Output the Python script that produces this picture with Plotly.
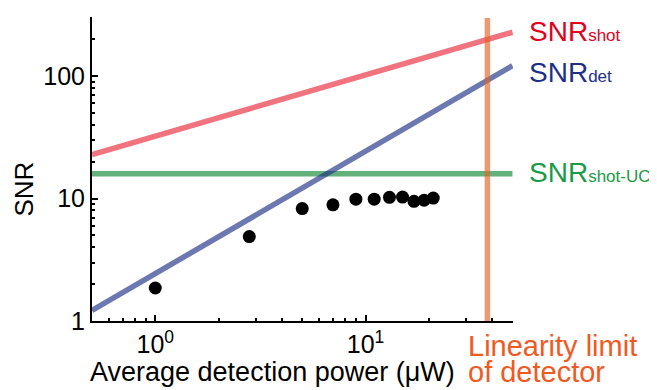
import plotly.graph_objects as go
import numpy as np

# ---- data ----
power_meas = [1.0, 2.8, 5, 7, 9, 11, 13, 15, 17, 19, 21]
snr_meas = [1.86, 4.9, 8.3, 8.9, 9.9, 9.9, 10.25, 10.3, 9.5, 9.7, 10.1]

power_model = [0.5, 50]
snr_shot = [22.9, 229]
snr_det = [1.22, 122]
snr_shot_uc = [16, 16]

linearity_limit = 38
snr_span = [1, 300]

x_tickvals = [1, 10]
x_ticktext = ["10<sup>0</sup>", "10<sup>1</sup>"]
x_minor = [0.6, 0.7, 0.8, 0.9, 2, 3, 4, 5, 6, 7, 8, 9, 20, 30, 40, 50]
y_tickvals = [1, 10, 100]
y_ticktext = ["1", "10", "100"]
y_minor = [2, 3, 4, 5, 6, 7, 8, 9, 20, 30, 40, 50, 60, 70, 80, 90, 200, 300]

FONT = "Liberation Sans, Arial, sans-serif"

fig = go.Figure()
fig.add_trace(go.Scatter(x=power_model, y=snr_shot, mode="lines",
                         line=dict(color="rgba(230,0,18,0.55)", width=5.5), showlegend=False))
fig.add_trace(go.Scatter(x=power_model, y=snr_shot_uc, mode="lines",
                         line=dict(color="rgba(26,140,60,0.68)", width=5.5), showlegend=False))
fig.add_trace(go.Scatter(x=power_model, y=snr_det, mode="lines",
                         line=dict(color="rgba(29,47,134,0.65)", width=5.5), showlegend=False))
fig.add_trace(go.Scatter(x=[linearity_limit, linearity_limit], y=snr_span, mode="lines",
                         line=dict(color="rgba(225,100,40,0.65)", width=5.5), showlegend=False))
fig.add_trace(go.Scatter(x=power_meas, y=snr_meas, mode="markers",
                         marker=dict(color="black", size=13), showlegend=False))

fig.update_xaxes(type="log", range=[np.log10(0.5), np.log10(50.3)],
                 showline=True, linecolor="black", linewidth=2,
                 showgrid=False, zeroline=False,
                 tickmode="array", tickvals=x_tickvals, ticktext=x_ticktext,
                 ticks="inside", ticklen=6, tickwidth=2, tickcolor="black",
                 minor=dict(ticks="inside", ticklen=3, tickwidth=1.5, tickcolor="black",
                            tickmode="array", tickvals=x_minor, showgrid=False),
                 tickfont=dict(family=FONT, size=25, color="black"))
fig.update_yaxes(type="log", range=[0, np.log10(305)],
                 showline=True, linecolor="black", linewidth=2,
                 showgrid=False, zeroline=False,
                 tickmode="array", tickvals=y_tickvals, ticktext=y_ticktext,
                 ticks="inside", ticklen=6, tickwidth=2, tickcolor="black",
                 minor=dict(ticks="inside", ticklen=3, tickwidth=1.5, tickcolor="black",
                            tickmode="array", tickvals=y_minor, showgrid=False),
                 tickfont=dict(family=FONT, size=25, color="black"))

sub = '<span style="font-size:17px">{}</span>'
annots = [
    dict(text="SNR" + sub.format("shot"), y=0.952, color="#E3001B"),
    dict(text="SNR" + sub.format("det"), y=0.816, color="#1D2F86"),
    dict(text="SNR" + sub.format("shot-UC"), y=0.487, color="#1A9A46"),
]
for a in annots:
    fig.add_annotation(text=a["text"], x=1.033, y=a["y"], xref="paper", yref="paper",
                       xanchor="left", yanchor="middle", showarrow=False,
                       font=dict(family=FONT, size=28, color=a["color"]))
for txt, yy in [("Linearity limit", -0.0822), ("of detector", -0.1678)]:
    fig.add_annotation(text=txt, x=0.889, y=yy,
                       xref="paper", yref="paper", xanchor="left", yanchor="middle",
                       showarrow=False,
                       font=dict(family=FONT, size=29, color="#F05A22"))
fig.add_annotation(text="Average detection power (μW)", x=0.4287, y=-0.169,
                   xref="paper", yref="paper", xanchor="center", yanchor="middle",
                   showarrow=False, font=dict(family=FONT, size=27, color="black"))
fig.add_annotation(text="SNR", x=-0.1615, y=0.4326, textangle=-90,
                   xref="paper", yref="paper", xanchor="center", yanchor="middle",
                   showarrow=False, font=dict(family=FONT, size=26, color="black"))

# page body adds an 8px offset; size the figure so the plot lands where the reference has it
fig.update_layout(width=649, height=382, margin=dict(l=84, r=144, t=9, b=69),
                  paper_bgcolor="white", plot_bgcolor="white")
fig.write_html("out.html")
